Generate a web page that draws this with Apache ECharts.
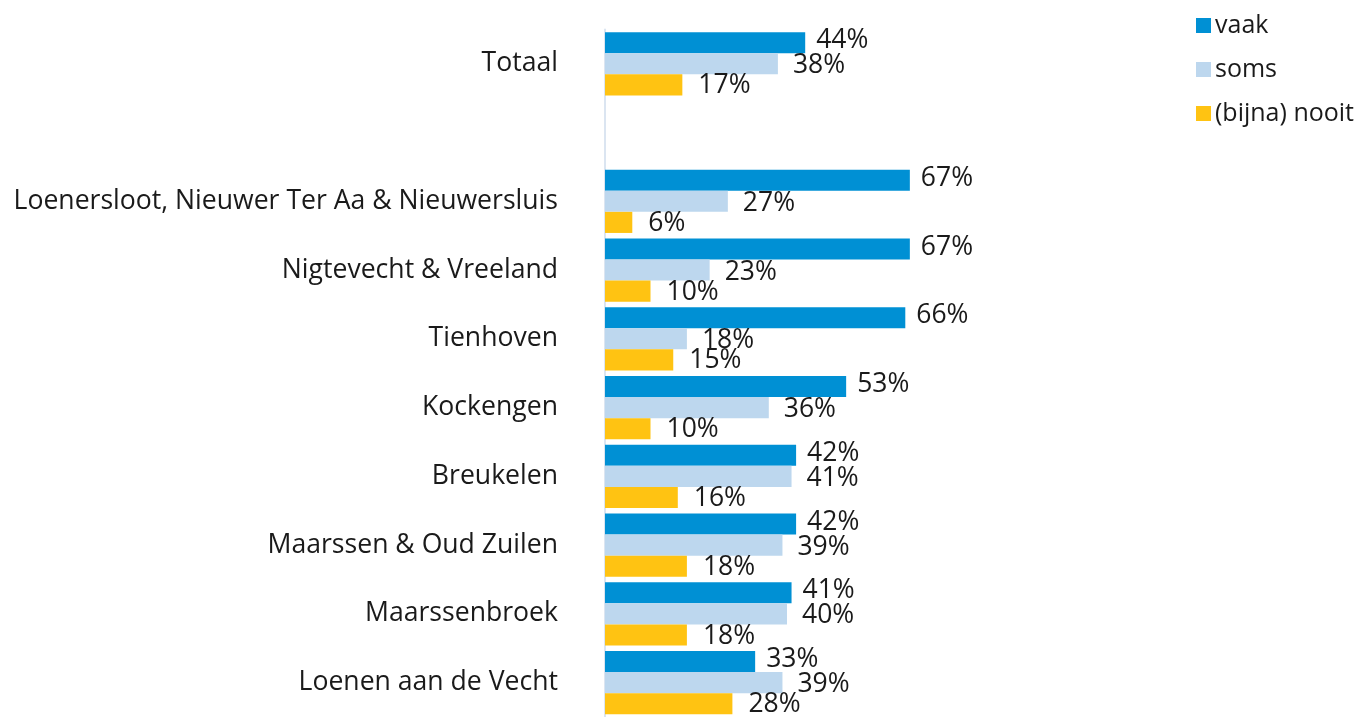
<!DOCTYPE html>
<html>
<head>
<meta charset="utf-8">
<script src="https://cdn.jsdelivr.net/npm/echarts@6/dist/echarts.min.js"></script>
<style>
  html, body { margin: 0; padding: 0; background: #fff; }
  #main { width: 1362px; height: 717px; }
</style>
</head>
<body>
<div id="main"></div>
<script>
// categories, with an empty slot after Totaal
let wijken = ['Totaal', '', 'Loenersloot, Nieuwer Ter Aa & Nieuwersluis', 'Nigtevecht & Vreeland',
  'Tienhoven', 'Kockengen', 'Breukelen', 'Maarssen & Oud Zuilen', 'Maarssenbroek', 'Loenen aan de Vecht']
let vaak = [44, null, 67, 67, 66, 53, 42, 42, 41, 33]
let soms = [38, null, 27, 23, 18, 36, 41, 39, 40, 39]
let nooit = [17, null, 6, 10, 15, 10, 16, 18, 18, 28]

let myChart = echarts.init(document.getElementById('main'))

let lbl = function (dist, dy) {
  return {
    show: true,
    position: 'right',
    distance: dist,
    offset: [0, dy],
    formatter: '{c}%',
    color: '#1a1a1a',
    fontSize: 26.5,
    fontFamily: 'Open Sans',
  }
}

let option = {
  animation: false,
  textStyle: { fontFamily: 'Open Sans' },
  legend: {
    orient: 'vertical',
    left: 1191,
    top: 8,
    itemWidth: 15,
    itemHeight: 15,
    itemGap: 19,
    icon: 'rect',
    textStyle: { fontSize: 25, color: '#1a1a1a', padding: [0, 0, 0, -1] },
    data: ['vaak', 'soms', '(bijna) nooit'],
  },
  grid: {
    left: 605,
    top: 29.4,
    width: 455,
    height: 691.5,
  },
  xAxis: {
    type: 'value',
    min: 0,
    max: 100,
    show: false,
  },
  yAxis: {
    type: 'category',
    inverse: true,
    data: wijken,
    axisLine: { lineStyle: { color: '#dbe5f1', width: 2 } },
    axisTick: { show: false },
    axisLabel: { fontSize: 26.6, color: '#1a1a1a', margin: 47, fontFamily: 'Open Sans' },
  },
  series: [
    { name: 'vaak', type: 'bar', data: vaak, barWidth: 21.1, barGap: '0%', itemStyle: { color: '#0090d4' }, label: lbl(11, -2) },
    { name: 'soms', type: 'bar', data: soms, barWidth: 21.1, barGap: '0%', itemStyle: { color: '#bdd7ee' }, label: lbl(15, 2) },
    { name: '(bijna) nooit', type: 'bar', data: nooit, barWidth: 21.1, barGap: '0%', itemStyle: { color: '#ffc312' }, label: lbl(16, 1) },
  ],
}
myChart.setOption(option)
</script>
</body>
</html>
